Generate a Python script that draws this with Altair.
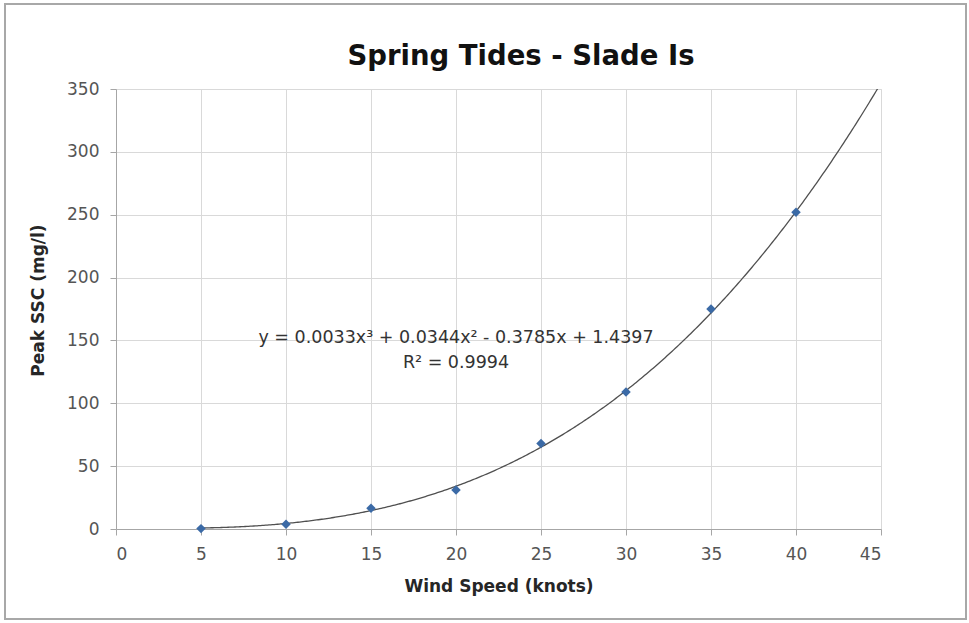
import altair as alt
import pandas as pd

# Measured peak suspended sediment concentration at each wind speed
wind_speed = [5, 10, 15, 20, 25, 30, 35, 40]
peak_ssc = [0.3, 3.7, 16.5, 31, 68, 109, 175, 252]

# Cubic trendline coefficients (x³, x², x, constant) and fit quality
coef = [0.0033, 0.0344, -0.3785, 1.4397]
r_squared = 0.9994

equation_lines = [
    "y = 0.0033x³ + 0.0344x² - 0.3785x + 1.4397",
    "R² = 0.9994",
]
equation_anchor = {"x": 20.0, "y": 152}

x_ticks = [0, 5, 10, 15, 20, 25, 30, 35, 40, 45]
y_ticks = [0, 50, 100, 150, 200, 250, 300, 350]

FONT = "DejaVu Sans"
W, H = 765, 440
PAD = {"left": 116, "top": 89, "right": 88, "bottom": 94}

points_df = pd.DataFrame({"wind": wind_speed, "ssc": peak_ssc})

x_scale = alt.Scale(domain=[0, 45], nice=False, zero=False)
y_scale = alt.Scale(domain=[0, 350], nice=False)

x_axis = alt.Axis(
    title="Wind Speed (knots)", values=x_ticks, grid=True, gridColor="#d9d9d9",
    domainColor="#a6a6a6", tickColor="#a6a6a6", tickSize=6,
    labelFont=FONT, labelFontSize=17, labelColor="#555555", labelPadding=11,
    titleFont=FONT, titleFontSize=17, titleFontWeight="bold", titleColor="#262626",
    titlePadding=16,
)
y_axis = alt.Axis(
    title="Peak SSC (mg/l)", values=y_ticks, grid=True, gridColor="#d9d9d9",
    domainColor="#a6a6a6", tickColor="#a6a6a6", tickSize=6,
    labelFont=FONT, labelFontSize=17, labelColor="#555555", labelPadding=11,
    titleFont=FONT, titleFontSize=17, titleFontWeight="bold", titleColor="#262626",
    titlePadding=19, titleY=211,
)

# Trendline evaluated from the stated cubic coefficients over 5–45 knots
trend = (
    alt.Chart(alt.sequence(start=5, stop=45.05, step=0.1, as_="wind"))
    .transform_calculate(
        ssc=f"{coef[0]}*pow(datum.wind,3) + {coef[1]}*pow(datum.wind,2) + ({coef[2]})*datum.wind + {coef[3]}"
    )
    .transform_filter("datum.ssc <= 352")
    .mark_line(color="#505050", strokeWidth=1.3, clip=True)
    .encode(
        x=alt.X("wind:Q", scale=x_scale, axis=x_axis),
        y=alt.Y("ssc:Q", scale=y_scale, axis=y_axis),
    )
)

points = (
    alt.Chart(points_df)
    .mark_point(shape="diamond", filled=True, color="#3b6aa6", size=90, opacity=1)
    .encode(x=alt.X("wind:Q", scale=x_scale), y=alt.Y("ssc:Q", scale=y_scale))
)

equation = (
    alt.Chart(pd.DataFrame([{"x": equation_anchor["x"], "y": equation_anchor["y"],
                             "label": equation_lines}]))
    .mark_text(font=FONT, fontSize=17.5, color="#333333", align="center",
               baseline="middle", lineHeight=25)
    .encode(x=alt.X("x:Q", scale=x_scale), y=alt.Y("y:Q", scale=y_scale), text="label")
)

# Chart-area frame around the whole figure
frame = (
    alt.Chart(pd.DataFrame({"k": [0]}))
    .mark_rect(fill=None, stroke="#a8a8a8", strokeWidth=2)
    .encode(
        x=alt.value(-111), x2=alt.value(W + 85),
        y=alt.value(-85), y2=alt.value(H + 90),
    )
)

title_mark = (
    alt.Chart(pd.DataFrame({"t": ["Spring Tides - Slade Is"]}))
    .mark_text(font=FONT, fontSize=27.5, fontWeight="bold", color="#111111",
               align="center", baseline="alphabetic")
    .encode(x=alt.value(521 - PAD["left"]), y=alt.value(65 - PAD["top"]), text="t")
)

chart = (
    alt.layer(frame, trend, points, equation, title_mark)
    .properties(width=W, height=H, padding=PAD, autosize=alt.AutoSizeParams(type="none"))
    .configure_view(stroke=None)
    .configure(background="white")
)

chart.save("out.html", embed_options={"renderer": "svg", "actions": False})
